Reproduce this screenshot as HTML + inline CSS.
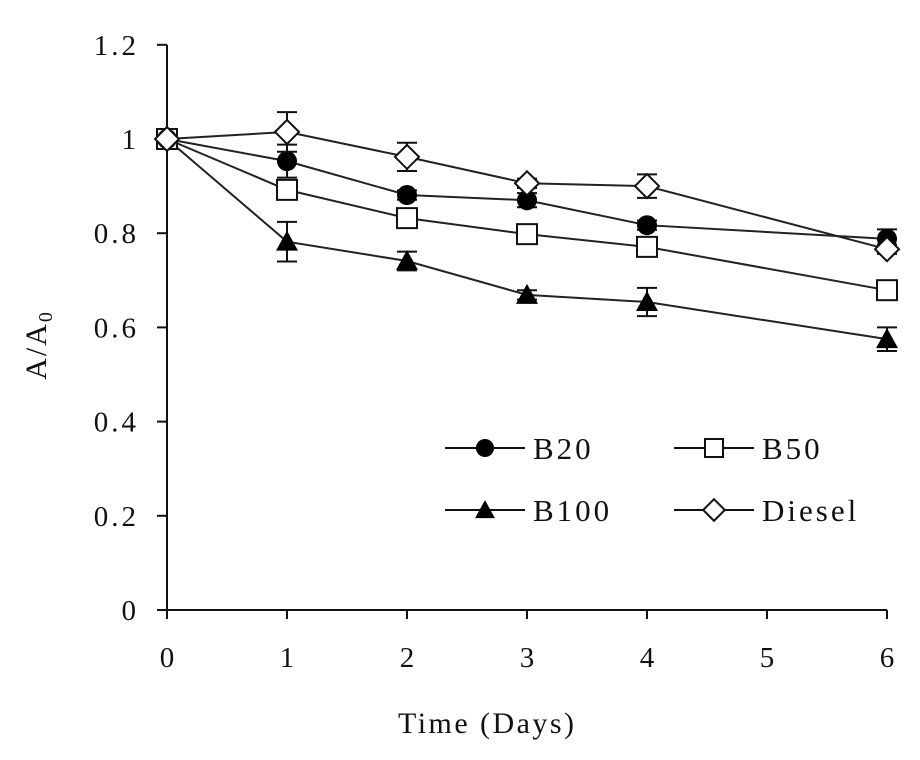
<!DOCTYPE html>
<html><head><meta charset="utf-8"><style>
html,body{margin:0;padding:0;background:#fff;}
svg{display:block;font-family:"Liberation Serif",serif;}
</style></head><body>
<svg id="chart" width="920" height="760" xmlns="http://www.w3.org/2000/svg"></svg>
<script>
const days = [0, 1, 2, 3, 4, 6];
const b20 = [1, 0.953, 0.881, 0.870, 0.817, 0.788];
const b20Err = [0, 0.035, 0.01, 0.015, 0.01, 0.02];
const b50 = [1, 0.892, 0.832, 0.798, 0.771, 0.679];
const b50Err = [0, 0.01, 0.01, 0.01, 0.01, 0.01];
const b100 = [1, 0.782, 0.741, 0.669, 0.654, 0.575];
const b100Err = [0, 0.042, 0.02, 0.01, 0.03, 0.025];
const diesel = [1, 1.015, 0.962, 0.906, 0.900, 0.766];
const dieselErr = [0, 0.042, 0.03, 0.01, 0.025, 0.01];
const xTicks = [0, 1, 2, 3, 4, 5, 6];
const yTicks = [0, 0.2, 0.4, 0.6, 0.8, 1, 1.2];
const yTickLabels = ["0", "0.2", "0.4", "0.6", "0.8", "1", "1.2"];

const NS = "http://www.w3.org/2000/svg";
const svg = document.getElementById("chart");
const X = d => 167 + d * 120;
const Y = v => 610 - v * 471;
function mk(tag, attrs, parent) {
  const e = document.createElementNS(NS, tag);
  for (const k in attrs) e.setAttribute(k, attrs[k]);
  (parent || svg).appendChild(e);
  return e;
}
const st = "#111";
let e = mk("line", {x1: X(0), y1: Y(0), x2: X(6), y2: Y(0), stroke: st, "stroke-width": 2});


e = mk("line", {x1: X(0), y1: Y(0), x2: X(0), y2: Y(1.2), stroke: st, "stroke-width": 2});


xTicks.forEach(t => {
  mk("line", {x1: X(t), y1: Y(0), x2: X(t), y2: Y(0) + 9, stroke: st, "stroke-width": 2});
  const tx = mk("text", {x: X(t), y: 667, "font-size": 29, "text-anchor": "middle", fill: st});
  tx.textContent = t;
  
  
});
yTicks.forEach((t, i) => {
  mk("line", {x1: X(0) - 10, y1: Y(t), x2: X(0), y2: Y(t), stroke: st, "stroke-width": 2});
  const tx = mk("text", {x: 139, y: Y(t) + 10, "font-size": 29, "letter-spacing": 3, "text-anchor": "end", fill: st});
  tx.textContent = yTickLabels[i];
  
  
});
e = mk("text", {x: 398, y: 733, "font-size": 30, "letter-spacing": 2, "textLength": 178, fill: st});
e.textContent = "Time (Days)";


e = mk("text", {transform: "translate(46,345) rotate(-90)", "font-size": 30, "letter-spacing": 2, "text-anchor": "middle", fill: st});
e.innerHTML = 'A/A<tspan font-size="20" dy="6">0</tspan>';



function marker(type, cx, cy, g, s) {
  s = s || 1;
  if (type === "circle") return mk("circle", {cx, cy, r: 10 * s, fill: "#000"}, g);
  if (type === "square") return mk("rect", {x: cx - 10 * s, y: cy - 10 * s, width: 20 * s, height: 20 * s, fill: "#fff", stroke: st, "stroke-width": 2}, g);
  if (type === "triangle") return mk("polygon", {points: `${cx},${cy - 11 * s} ${cx + 11 * s},${cy + 9 * s} ${cx - 11 * s},${cy + 9 * s}`, fill: "#000"}, g);
  return mk("polygon", {points: `${cx},${cy - 12 * s} ${cx + 12 * s},${cy} ${cx},${cy + 12 * s} ${cx - 12 * s},${cy}`, fill: "#fff", stroke: st, "stroke-width": 2}, g);
}
const series = [
  {name: "b100", vals: b100, err: b100Err, m: "triangle"},
  {name: "b50", vals: b50, err: b50Err, m: "square"},
  {name: "b20", vals: b20, err: b20Err, m: "circle"},
  {name: "diesel", vals: diesel, err: dieselErr, m: "diamond"}
];
series.forEach(s => {
  const g = mk("g", {});
  
  
  const l = mk("polyline", {points: days.map((d, i) => X(d) + "," + Y(s.vals[i])).join(" "), fill: "none", stroke: "#222", "stroke-width": 2}, g);
  
  
  days.forEach((d, i) => {
    const er = s.err[i];
    if (er > 0) {
      const x = X(d), y1 = Y(s.vals[i] + er), y2 = Y(s.vals[i] - er);
      mk("line", {x1: x, y1, x2: x, y2, stroke: st, "stroke-width": 2}, g);
      mk("line", {x1: x - 10, y1, x2: x + 10, y2: y1, stroke: st, "stroke-width": 2}, g);
      mk("line", {x1: x - 10, y1: y2, x2: x + 10, y2, stroke: st, "stroke-width": 2}, g);
    }
    const m = marker(s.m, X(d), Y(s.vals[i]), g);
    
    
  });
});
const legend = [
  {label: "B20", m: "circle", x: 445, y: 448},
  {label: "B50", m: "square", x: 674, y: 448},
  {label: "B100", m: "triangle", x: 445, y: 510},
  {label: "Diesel", m: "diamond", x: 674, y: 510}
];
legend.forEach(it => {
  const g = mk("g", {});
  
  
  mk("line", {x1: it.x, y1: it.y, x2: it.x + 80, y2: it.y, stroke: st, "stroke-width": 2}, g);
  marker(it.m, it.x + 40, it.y, g, 0.9);
  const t = mk("text", {x: it.x + 88, y: it.y + 11, "font-size": 31, "letter-spacing": 3, fill: st}, g);
  t.textContent = it.label;
});
</script>
</body></html>
